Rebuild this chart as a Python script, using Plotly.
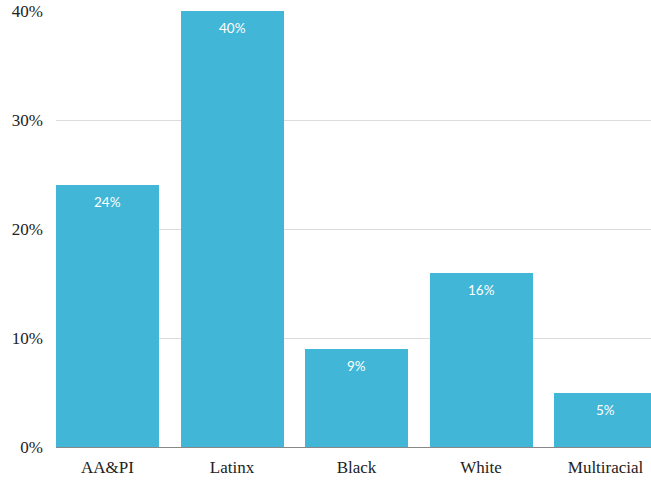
import plotly.graph_objects as go

categories = ["AA&PI", "Latinx", "Black", "White", "Multiracial"]
values = [24, 40, 9, 16, 5]
tick_vals = [0, 10, 20, 30, 40]
tick_text = ["0%", "10%", "20%", "30%", "40%"]

fig = go.Figure(go.Bar(
    x=list(range(len(categories))),
    y=values,
    width=0.827,
    marker=dict(color="#41B6D6", line=dict(width=0)),
    hoverinfo="skip",
))

for i, v in enumerate(values):
    fig.add_annotation(
        x=i, y=v, text=f"{v}%", showarrow=False, yanchor="middle",
        yshift=-17,
        font=dict(family="Lato, Open Sans, sans-serif", size=13.5, color="white"),
    )

fig.update_layout(
    width=651, height=480,
    margin=dict(l=56, r=0, t=11, b=33),
    paper_bgcolor="white", plot_bgcolor="white",
    showlegend=False,
    font=dict(family="Liberation Serif, serif", size=16, color="#222"),
    bargap=0,
)
fig.update_xaxes(
    tickmode="array", tickvals=list(range(len(categories))), ticktext=categories,
    range=[-0.4137, 4.365],
    showgrid=False, showline=True, linecolor="#888", linewidth=1,
    ticks="", tickfont=dict(size=17), ticklabelstandoff=5,
)
fig.update_yaxes(
    range=[0, 40], tickvals=tick_vals, ticktext=tick_text,
    showgrid=True, gridcolor="#dcdcdc", gridwidth=1,
    zeroline=False, showline=False, ticks="", ticklabelstandoff=12,
    tickfont=dict(size=17),
)

fig.write_html("out.html")
